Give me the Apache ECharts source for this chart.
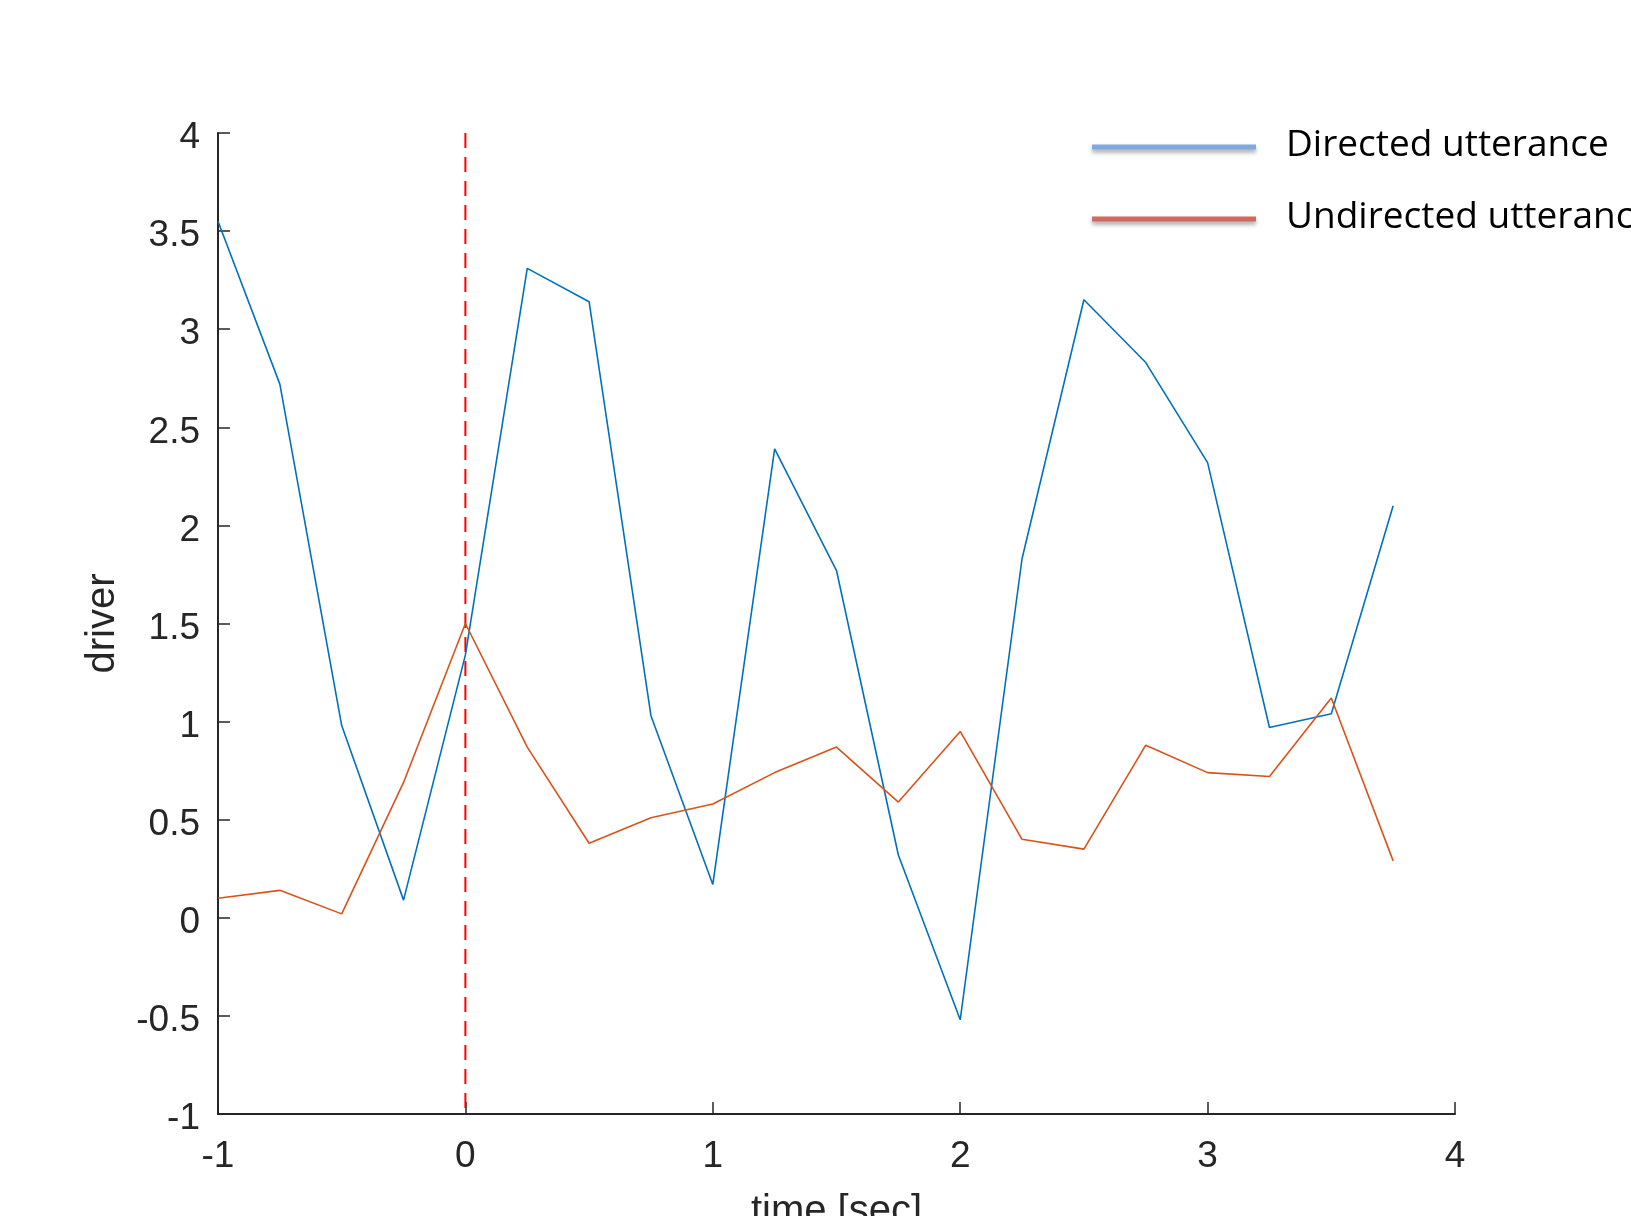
<!DOCTYPE html>
<html>
<head>
<meta charset="utf-8">
<script src="https://cdn.jsdelivr.net/npm/echarts@6/dist/echarts.min.js"></script>
<style>
  html, body { margin: 0; padding: 0; background: #fff; }
  #chart { width: 1631px; height: 1216px; }
</style>
</head>
<body>
<div id="chart"></div>
<script>
// time points (sec), onset at 0
const timeSec = [-1, -0.75, -0.5, -0.25, 0, 0.25, 0.5, 0.75, 1, 1.25, 1.5, 1.75, 2, 2.25, 2.5, 2.75, 3, 3.25, 3.5, 3.75];
const directed = [3.55, 2.72, 0.98, 0.09, 1.34, 3.31, 3.14, 1.03, 0.17, 2.39, 1.77, 0.32, -0.52, 1.83, 3.15, 2.83, 2.32, 0.97, 1.04, 2.10];
const undirected = [0.10, 0.14, 0.02, 0.69, 1.50, 0.87, 0.38, 0.51, 0.58, 0.74, 0.87, 0.59, 0.95, 0.40, 0.35, 0.88, 0.74, 0.72, 1.12, 0.29];
const seriesNames = ['Directed utterance', 'Undirected utterance'];
const onsetTime = 0;
const yRange = [-1, 4];
const xRange = [-1, 4];

const axisColor = '#262626';
const tickFont = 'Liberation Sans, Arial, sans-serif';

let myChart = echarts.init(document.getElementById('chart'));

function pairs(xs, ys) {
    return xs.map((x, i) => [x, ys[i]]);
}

// legend drawn by hand: lines with soft shadow, like the original
const legendLines = [
    { color: '#7FA9DE', y: 147 },
    { color: '#CF6A5F', y: 219 }
];
const legendGraphics = [];
legendLines.forEach((it, i) => {
    legendGraphics.push({
        type: 'line',
        shape: { x1: 1092, y1: it.y, x2: 1256, y2: it.y },
        style: {
            stroke: it.color,
            lineWidth: 5,
            shadowBlur: 4,
            shadowOffsetY: 3,
            shadowColor: 'rgba(0,0,0,0.35)'
        }
    });
    legendGraphics.push({
        type: 'text',
        x: 1286,
        y: it.y - 2,
        style: {
            text: seriesNames[i],
            font: '37px "Open Sans", sans-serif',
            fill: '#000',
            verticalAlign: 'middle'
        }
    });
});

myChart.setOption({
    animation: false,
    backgroundColor: '#fff',
    grid: { left: 218, right: 176, top: 133, bottom: 102, outerBoundsMode: 'none', containLabel: false },
    xAxis: {
        type: 'value',
        min: xRange[0],
        max: xRange[1],
        interval: 1,
        name: 'time [sec]',
        nameLocation: 'middle',
        nameGap: 78,
        nameTextStyle: { fontSize: 40, color: axisColor, fontFamily: tickFont },
        axisLine: { onZero: false, lineStyle: { color: axisColor, width: 2 } },
        axisTick: { inside: true, length: 12, lineStyle: { color: axisColor, width: 1.5 } },
        axisLabel: { margin: 24, fontSize: 37, color: axisColor, fontFamily: tickFont },
        splitLine: { show: false }
    },
    yAxis: {
        type: 'value',
        min: yRange[0],
        max: yRange[1],
        interval: 0.5,
        name: 'driver',
        nameLocation: 'middle',
        nameGap: 95,
        nameTextStyle: { fontSize: 40, color: axisColor, fontFamily: tickFont },
        axisLine: { show: true, onZero: false, lineStyle: { color: axisColor, width: 2 } },
        axisTick: { show: true, inside: true, length: 12, lineStyle: { color: axisColor, width: 1.5 } },
        axisLabel: {
            margin: 18,
            formatter: '{v|{value}}',
            rich: {
                // extra top padding nudges the digits a little below the tick
                v: { fontSize: 37, color: axisColor, fontFamily: tickFont, padding: [10, 0, 0, 0] }
            }
        },
        splitLine: { show: false }
    },
    series: [
        {
            name: 'onset',
            type: 'line',
            // drawn top to bottom so the dash pattern starts at the top
            data: [[onsetTime, yRange[1]], [onsetTime, yRange[0]]],
            symbol: 'none',
            lineStyle: { color: '#FF0000', width: 2, type: [15, 9] },
            z: 1
        },
        {
            name: seriesNames[0],
            type: 'line',
            data: pairs(timeSec, directed),
            symbol: 'none',
            lineStyle: { color: '#0072BD', width: 1.6 },
            z: 2
        },
        {
            name: seriesNames[1],
            type: 'line',
            data: pairs(timeSec, undirected),
            symbol: 'none',
            lineStyle: { color: '#D95319', width: 1.6 },
            z: 3
        }
    ],
    graphic: legendGraphics
});
</script>
</body>
</html>
